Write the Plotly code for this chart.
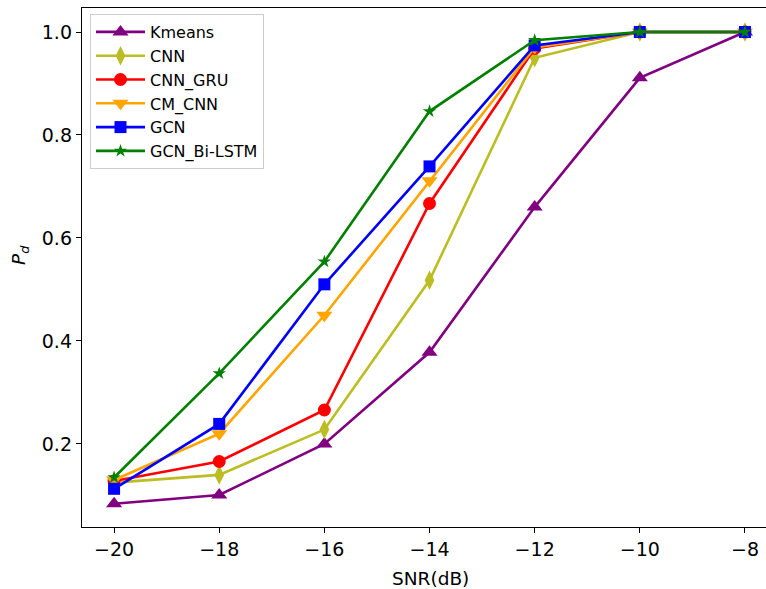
import plotly.graph_objects as go

snr = [-20, -18, -16, -14, -12, -10, -8]
kmeans = [0.084, 0.101, 0.200, 0.378, 0.660, 0.911, 1.000]
cnn = [0.125, 0.140, 0.228, 0.518, 0.950, 1.000, 1.000]
cnn_gru = [0.128, 0.166, 0.266, 0.667, 0.968, 1.000, 1.000]
cm_cnn = [0.130, 0.220, 0.450, 0.711, 0.970, 1.000, 1.000]
gcn = [0.113, 0.239, 0.510, 0.739, 0.974, 1.000, 1.000]
gcn_bilstm = [0.135, 0.337, 0.554, 0.846, 0.984, 1.000, 1.000]

series = [
    ("Kmeans", kmeans, "purple", "triangle-up", 14),
    ("CNN", cnn, "#bcbd22", "diamond-tall", 14),
    ("CNN_GRU", cnn_gru, "red", "circle", 13),
    ("CM_CNN", cm_cnn, "orange", "triangle-down", 14),
    ("GCN", gcn, "blue", "square", 12),
    ("GCN_Bi-LSTM", gcn_bilstm, "green", "star", 10),
]

fig = go.Figure()
for i, (name, vals, color, sym, size) in enumerate(series):
    fig.add_trace(go.Scatter(
        x=snr, y=vals, name=name, mode="lines+markers",
        line=dict(color=color, width=2.6),
        marker=dict(symbol=sym, size=size, color=color, line=dict(width=0)),
    ))

font = "DejaVu Sans"
fig.update_layout(
    width=766, height=589,
    margin=dict(l=82, r=0, t=8, b=62),
    paper_bgcolor="white", plot_bgcolor="white",
    font=dict(family=font, color="black", size=17),
    showlegend=True,
    legend=dict(
        x=(90 - 82) / 684, y=1 - (14 - 8) / 519, xanchor="left", yanchor="top",
        font=dict(family=font, size=16, color="black"),
        bordercolor="#cccccc", borderwidth=1, bgcolor="rgba(255,255,255,0.8)",
        traceorder="normal", itemwidth=49, tracegroupgap=0,
    ),
    xaxis=dict(
        range=[-20.61, -7.60], tickvals=snr, ticks="outside", ticklen=5,
        tickwidth=1.2, tickcolor="black", showline=True, linecolor="black",
        linewidth=1.4, mirror=True, showgrid=False, zeroline=False,
        tickfont=dict(family=font, size=19),
    ),
    yaxis=dict(
        range=[0.0388, 1.0466], tickvals=[0.2, 0.4, 0.6, 0.8, 1.0],
        ticktext=["0.2", "0.4", "0.6", "0.8", "1.0"], ticks="outside", ticklen=5,
        tickwidth=1.2, tickcolor="black", showline=True, linecolor="black",
        linewidth=1.4, mirror=False, showgrid=False, zeroline=False,
        tickfont=dict(family=font, size=19),
    ),
    annotations=[
        dict(text="SNR(dB)", xref="paper", yref="paper", x=(430 - 82) / 684, y=0,
             yshift=-51, xanchor="center", yanchor="middle", showarrow=False,
             font=dict(family=font, size=18.5)),
        dict(text="<i>P</i><sub><i>d</i></sub>", xref="paper", yref="paper",
             x=0, xshift=-62, y=1 - (255 - 8) / 519, xanchor="center",
             yanchor="middle", textangle=-90, showarrow=False,
             font=dict(family=font, size=18.5)),
    ],
)

fig.write_html("out.html")
